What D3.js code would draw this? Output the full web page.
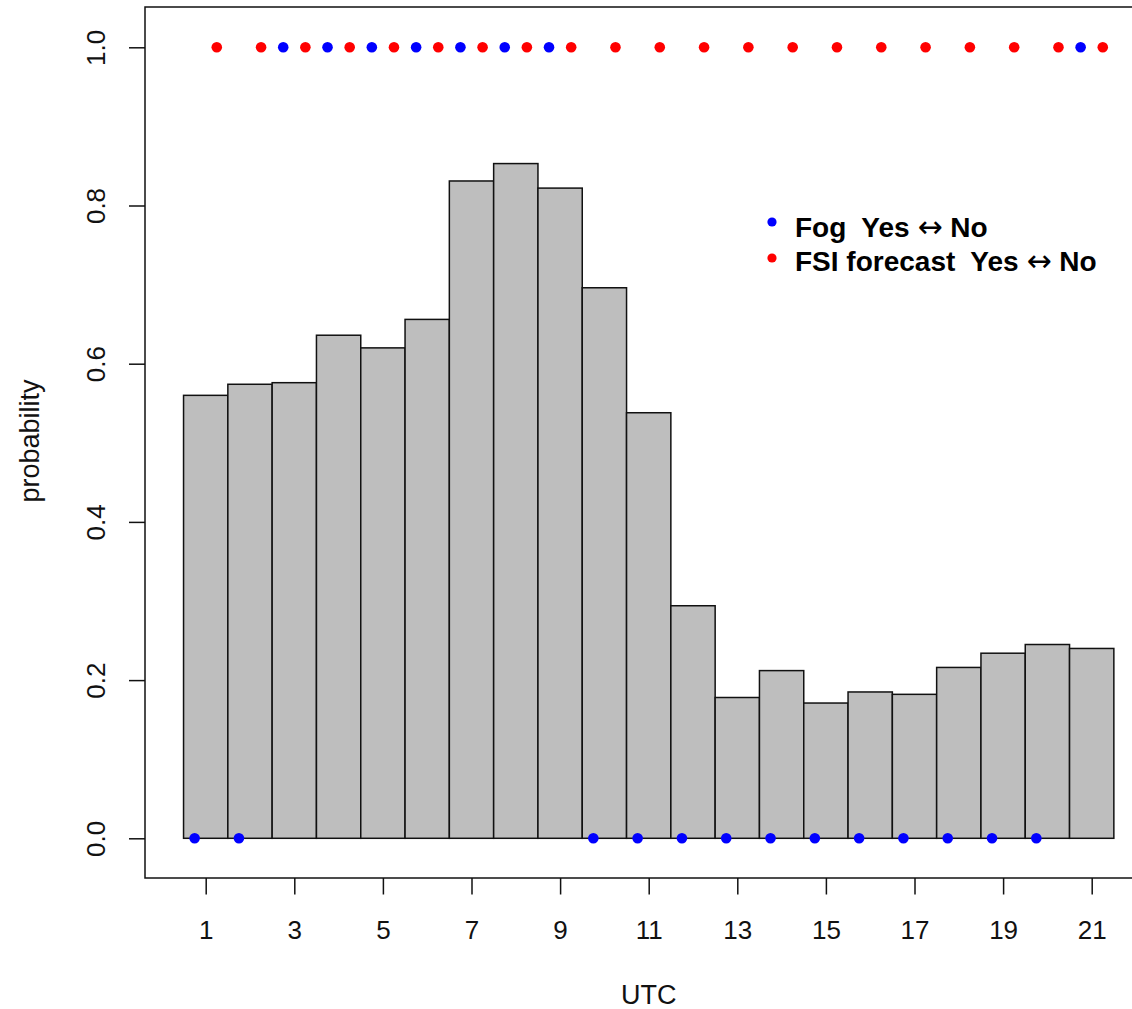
<!DOCTYPE html>
<html>
<head>
<meta charset="utf-8">
<script src="https://cdn.jsdelivr.net/npm/d3@7"></script>
<style>
  html, body { margin: 0; padding: 0; background: #fff; }
  svg { display: block; font-family: "Liberation Sans", Arial, sans-serif; }
  text { white-space: pre; }
</style>
</head>
<body>
<svg id="chart" width="1132" height="1009"></svg>
<script>
// Hour of day (UTC) for each bar
const hours = d3.range(1, 22);
// Probability per hour
const probability = [0.560, 0.574, 0.576, 0.636, 0.620, 0.656, 0.831, 0.853, 0.822, 0.696,
                     0.538, 0.294, 0.178, 0.212, 0.171, 0.185, 0.182, 0.216, 0.234, 0.245, 0.240];
// Observed fog state per hour (1 = yes, 0 = no), plotted just left of the hour
const fogObserved = [0, 0, 1, 1, 1, 1, 1, 1, 1, 0, 0, 0, 0, 0, 0, 0, 0, 0, 0, 0, 1];
// FSI forecast state per hour (1 = yes, 0 = no), plotted just right of the hour
const fsiForecast = [1, 1, 1, 1, 1, 1, 1, 1, 1, 1, 1, 1, 1, 1, 1, 1, 1, 1, 1, 1, 1];
// Axis ticks
const xTicks = [1, 3, 5, 7, 9, 11, 13, 15, 17, 19, 21];
const yTicks = [0, 0.2, 0.4, 0.6, 0.8, 1.0];
// Legend entries: text before the arrow, arrow, text after it
const legendLabels = [["Fog  Yes ", "\u2194", " No"], ["FSI forecast  Yes ", "\u2194", " No"]];
const legendColors = ["#0000ff", "#ff0000"];

const svg = d3.select("#chart");
const frame = { left: 145, top: 7, bottom: 878, right: 1160 };

const x = d3.scaleLinear().domain([1, 21]).range([205.7, 1091.7]);
const y = d3.scaleLinear().domain([0, 1]).range([838.3, 47.3]);

// bars
svg.append("g")
  .selectAll("rect")
  .data(hours)
  .join("rect")
  .attr("x", (h) => x(h - 0.5))
  .attr("width", (h) => x(h + 0.5) - x(h - 0.5))
  .attr("y", (h, i) => y(probability[i]))
  .attr("height", (h, i) => y(0) - y(probability[i]))
  .attr("fill", "#bebebe")
  .attr("stroke", "#111")
  .attr("stroke-width", 1.5);

// state markers
const dots = svg.append("g");
dots.selectAll("circle.fsi")
  .data(hours)
  .join("circle")
  .attr("class", "fsi")
  .attr("cx", (h) => x(h + 0.25))
  .attr("cy", (h, i) => y(fsiForecast[i]))
  .attr("r", 5.3)
  .attr("fill", "#ff0000");
dots.selectAll("circle.fog")
  .data(hours)
  .join("circle")
  .attr("class", "fog")
  .attr("cx", (h) => x(h - 0.25))
  .attr("cy", (h, i) => y(fogObserved[i]))
  .attr("r", 5.3)
  .attr("fill", "#0000ff");

// plot frame
svg.append("rect")
  .attr("x", frame.left)
  .attr("y", frame.top)
  .attr("width", frame.right - frame.left)
  .attr("height", frame.bottom - frame.top)
  .attr("fill", "none")
  .attr("stroke", "#111")
  .attr("stroke-width", 1.5);

// x axis
const xAxis = svg.append("g")
  .attr("transform", `translate(0,${frame.bottom})`)
  .call(d3.axisBottom(x).tickValues(xTicks).tickFormat(d3.format("d")).tickSize(16.5).tickPadding(26));
xAxis.select(".domain").remove();
xAxis.selectAll("line").attr("stroke", "#111").attr("stroke-width", 1.5);
xAxis.selectAll("text").attr("font-size", 26).attr("fill", "#111")
  .attr("font-family", "Liberation Sans, Arial, sans-serif");

// y axis with labels turned parallel to the axis
const yAxis = svg.append("g")
  .attr("transform", `translate(${frame.left},0)`)
  .call(d3.axisLeft(y).tickValues(yTicks).tickFormat(d3.format(".1f")).tickSize(16));
yAxis.select(".domain").remove();
yAxis.selectAll("line").attr("stroke", "#111").attr("stroke-width", 1.5);
yAxis.selectAll("text")
  .attr("x", null).attr("dy", null).attr("y", 0)
  .attr("text-anchor", "middle")
  .attr("transform", "translate(-40,0) rotate(-90)")
  .attr("font-size", 26).attr("fill", "#111")
  .attr("font-family", "Liberation Sans, Arial, sans-serif");

// axis titles
svg.append("text")
  .attr("x", x(11)).attr("y", 1004)
  .attr("text-anchor", "middle")
  .attr("font-size", 27).attr("fill", "#111")
  .text("UTC");
svg.append("text")
  .attr("transform", "translate(39,441) rotate(-90)")
  .attr("text-anchor", "middle")
  .attr("font-size", 27).attr("fill", "#111")
  .text("probability");

// legend
const legend = svg.append("g");
legendLabels.forEach((parts, i) => {
  legend.append("circle")
    .attr("cx", 772).attr("cy", 222 + i * 36)
    .attr("r", 4.6)
    .attr("fill", legendColors[i]);
  const t = legend.append("text")
    .attr("x", 795).attr("y", 237 + i * 34)
    .attr("font-size", 28).attr("font-weight", "bold").attr("fill", "#000");
  t.append("tspan").text(parts[0]);
  t.append("tspan")
    .attr("font-family", "DejaVu Sans").attr("font-weight", "normal").attr("font-size", 30)
    .text(parts[1]);
  t.append("tspan").text(parts[2]);
});
</script>
</body>
</html>
